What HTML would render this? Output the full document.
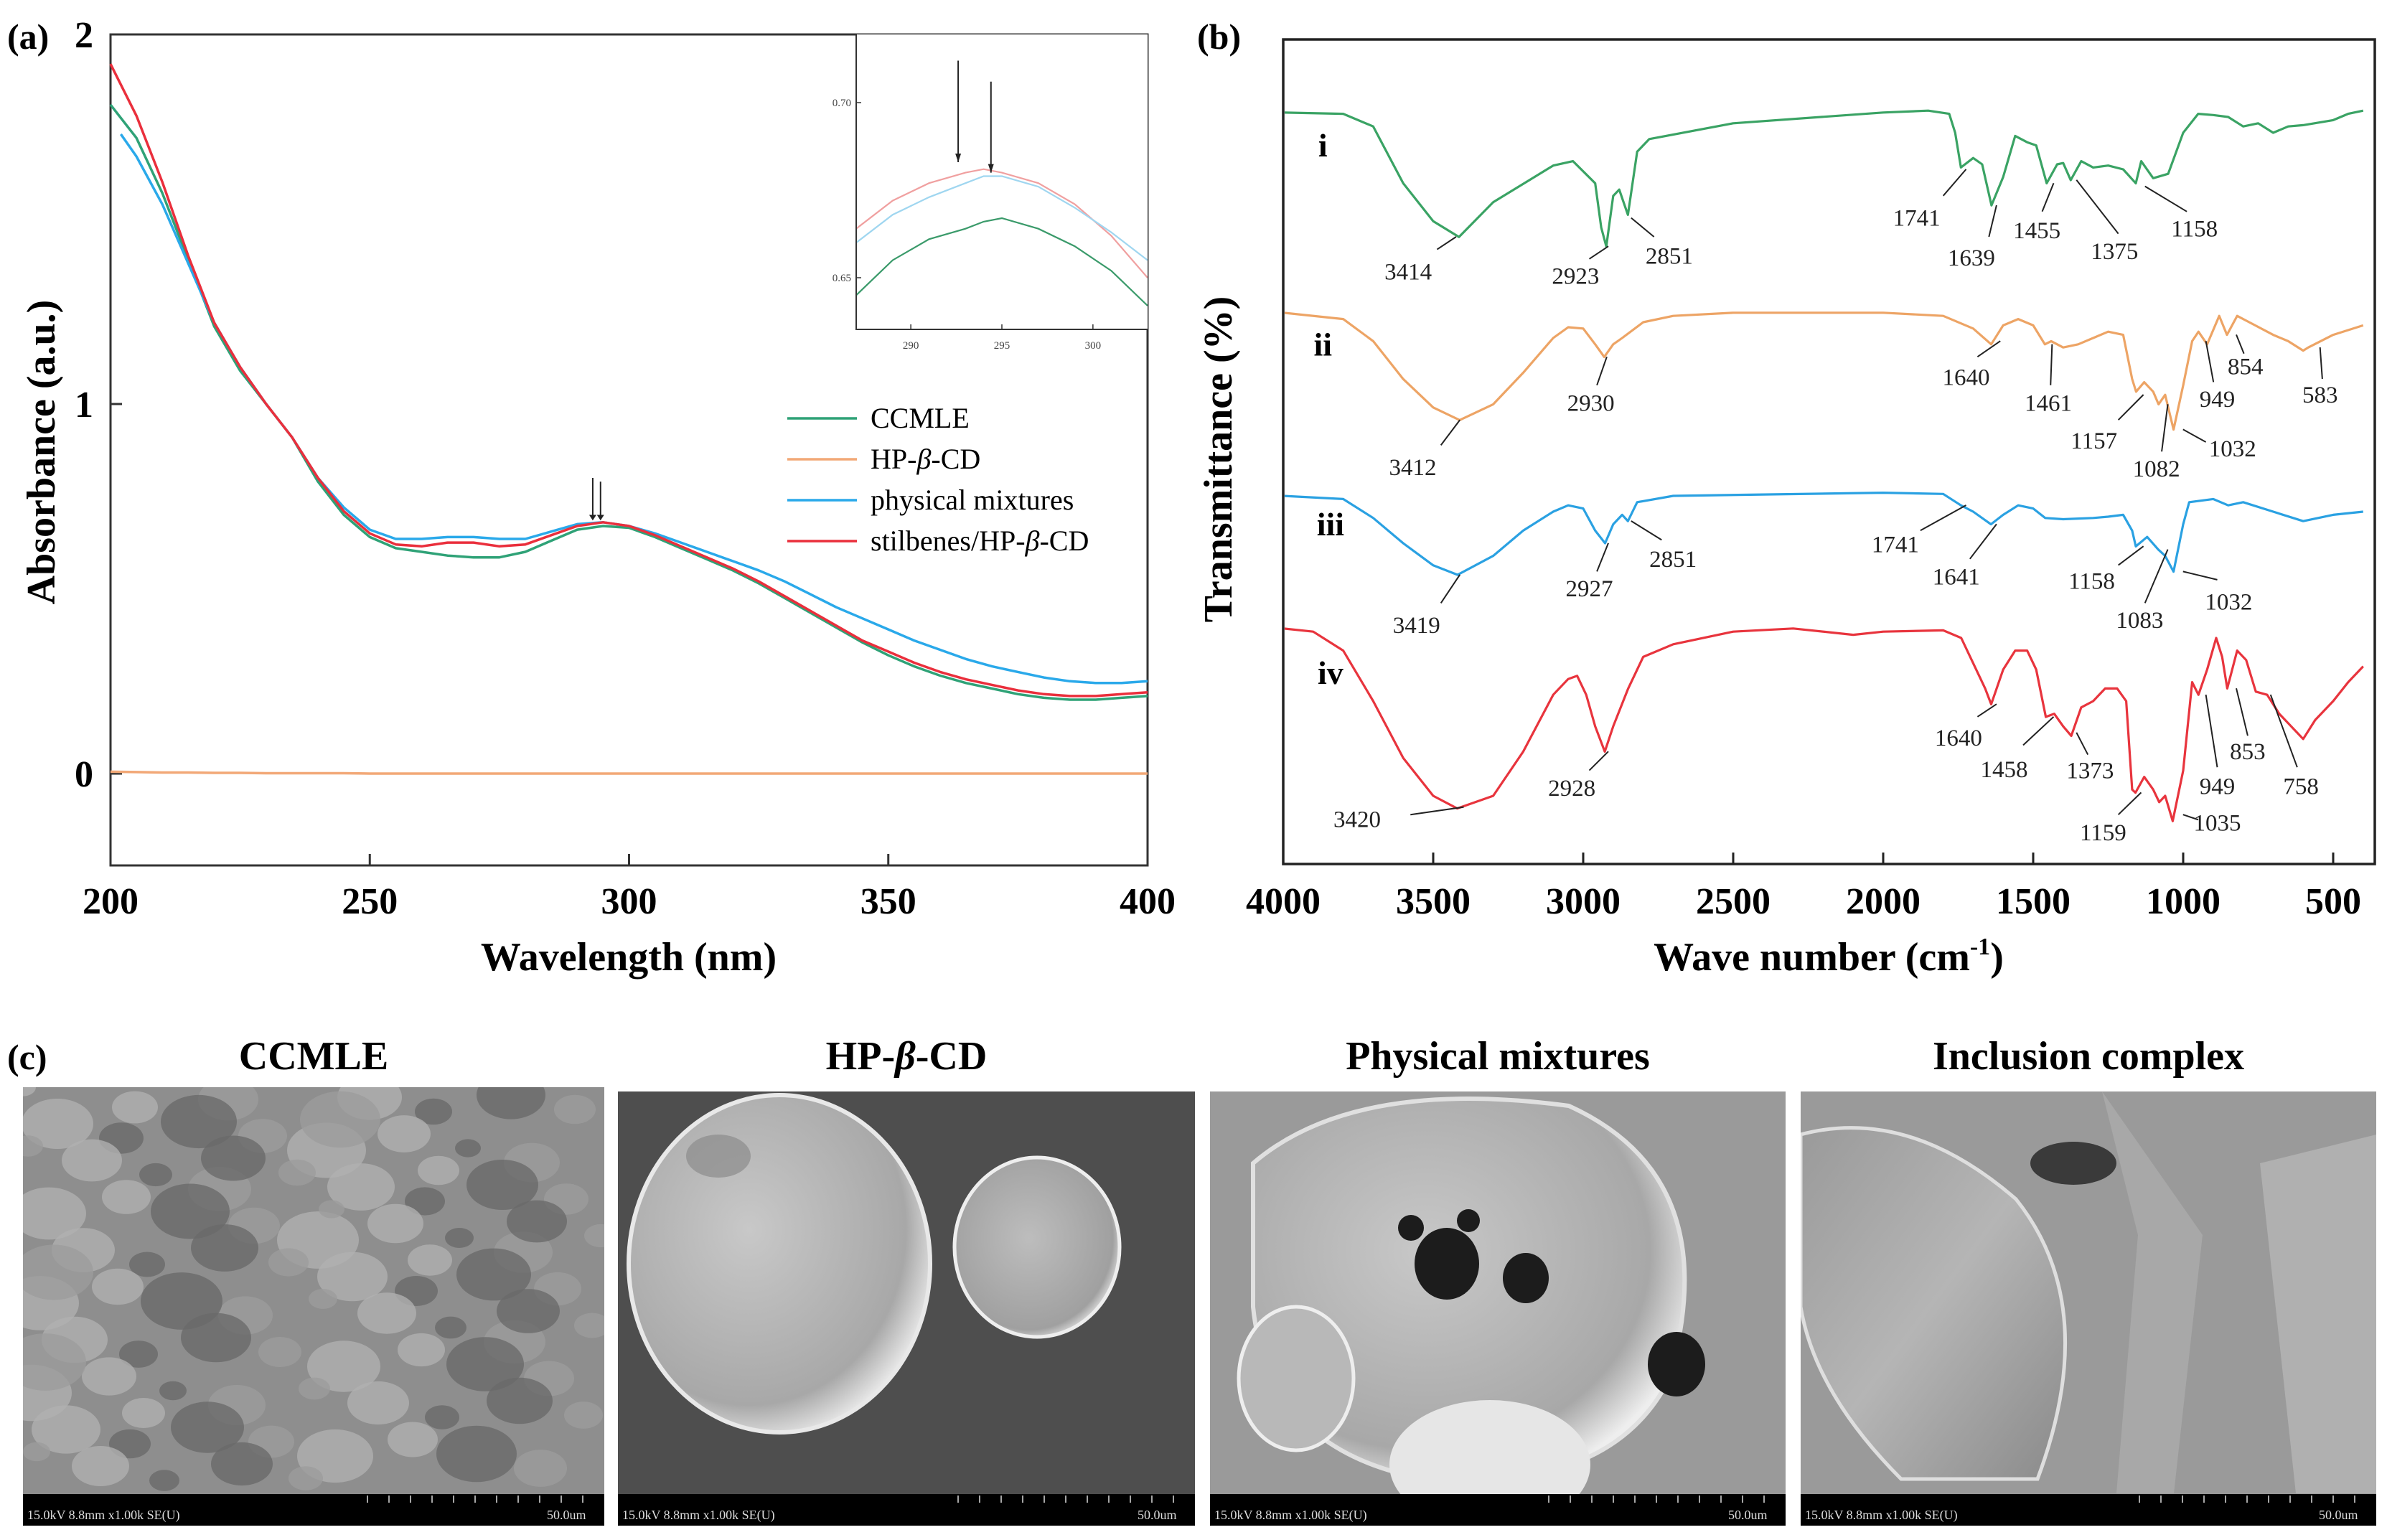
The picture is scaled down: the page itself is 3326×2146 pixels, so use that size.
<!DOCTYPE html>
<html><head><meta charset="utf-8">
<style>
html,body{margin:0;padding:0;background:#fff;}
svg{display:block;}
text{font-family:"Liberation Serif",serif;}
</style></head>
<body>
<svg id="fig" xmlns="http://www.w3.org/2000/svg" width="3326" height="2146" viewBox="0 0 3326 2146">
<defs>
<radialGradient id="sph" cx="40%" cy="40%" r="65%"><stop offset="0" stop-color="#c8c8c8"/><stop offset="0.8" stop-color="#a8a8a8"/><stop offset="1" stop-color="#eee"/></radialGradient>
<radialGradient id="sph2" cx="45%" cy="45%" r="60%"><stop offset="0" stop-color="#bdbdbd"/><stop offset="0.85" stop-color="#a0a0a0"/><stop offset="1" stop-color="#f2f2f2"/></radialGradient>
<linearGradient id="g4" x1="0" y1="0" x2="1" y2="1"><stop offset="0" stop-color="#9a9a9a"/><stop offset="0.5" stop-color="#b5b5b5"/><stop offset="1" stop-color="#8a8a8a"/></linearGradient>
</defs>
<g id="panelA"></g>
<g id="panelB"></g>
<g id="panelC"></g>
</svg>
<script>
// ---------- Panel (a) data ----------
const uvWavelengths = [200,205,210,215,220,225,230,235,240,245,250,255,260,265,270,275,280,285,290,295,300,305,310,315,320,325,330,335,340,345,350,355,360,365,370,375,380,385,390,395,400];
const uvCCMLE   = [1.81,1.72,1.57,1.39,1.21,1.09,1.0,0.91,0.79,0.70,0.64,0.61,0.60,0.59,0.585,0.585,0.60,0.63,0.66,0.67,0.665,0.64,0.61,0.58,0.55,0.515,0.475,0.435,0.395,0.355,0.32,0.29,0.265,0.245,0.23,0.215,0.205,0.20,0.20,0.205,0.21];
const uvStil    = [1.92,1.78,1.60,1.40,1.22,1.10,1.0,0.91,0.80,0.71,0.65,0.62,0.615,0.625,0.625,0.615,0.62,0.645,0.67,0.68,0.67,0.645,0.615,0.585,0.555,0.52,0.48,0.44,0.40,0.36,0.33,0.30,0.275,0.255,0.24,0.225,0.215,0.21,0.21,0.215,0.22];
const uvPMWave  = [202,205,210,215,220,225,230,235,240,245,250,255,260,265,270,275,280,285,290,295,300,305,310,315,320,325,330,335,340,345,350,355,360,365,370,375,380,385,390,395,400];
const uvPM      = [1.73,1.67,1.54,1.38,1.22,1.10,1.0,0.91,0.80,0.72,0.66,0.635,0.635,0.64,0.64,0.635,0.635,0.655,0.675,0.68,0.67,0.65,0.625,0.60,0.575,0.55,0.52,0.485,0.45,0.42,0.39,0.36,0.335,0.31,0.29,0.275,0.26,0.25,0.245,0.245,0.25];
const uvHP      = [0.005,0.004,0.003,0.003,0.002,0.002,0.001,0.001,0.001,0.001,0.0,0.0,0.0,0.0,0.0,0.0,0.0,0.0,0.0,0.0,0.0,0.0,0.0,0.0,0.0,0.0,0.0,0.0,0.0,0.0,0.0,0.0,0.0,0.0,0.0,0.0,0.0,0.0,0.0,0.0,0.0];
const uvXTicks = [200,250,300,350,400];
const uvYTicks = [0,1,2];
// inset
const inWave = [287,289,291,293,294,295,297,299,301,303];
const inStil = [0.664,0.672,0.677,0.680,0.681,0.680,0.677,0.671,0.662,0.650];
const inPM   = [0.660,0.668,0.673,0.677,0.679,0.679,0.676,0.670,0.663,0.655];
const inCC   = [0.645,0.655,0.661,0.664,0.666,0.667,0.664,0.659,0.652,0.642];
const inXTicks = [290,295,300];
const inYTicks = [0.65,0.70];
// ---------- Panel (b) data (transmittance, arbitrary units) ----------
const irWaveI = [4000,3800,3700,3600,3500,3414,3300,3100,3034,2960,2940,2923,2900,2880,2851,2820,2780,2500,2000,1850,1780,1760,1741,1700,1670,1639,1600,1560,1520,1490,1455,1420,1400,1375,1340,1300,1250,1200,1158,1140,1100,1050,1000,950,900,850,800,750,700,650,600,500,450,400];
const irI = [1190,1188,1168,1078,1018,993,1048,1106,1113,1078,1008,978,1058,1068,1028,1128,1148,1173,1190,1193,1188,1158,1103,1118,1108,1043,1088,1153,1143,1138,1078,1108,1110,1083,1113,1103,1106,1100,1078,1113,1086,1093,1158,1188,1186,1183,1168,1173,1158,1168,1170,1178,1188,1193];
const irWaveII = [4000,3800,3700,3600,3500,3412,3300,3200,3100,3050,3000,2960,2930,2900,2870,2800,2700,2500,2000,1800,1700,1640,1600,1550,1500,1461,1440,1400,1350,1300,1250,1200,1170,1157,1130,1100,1082,1060,1032,1000,970,949,920,880,854,820,780,700,650,600,583,500,400];
const irII = [873,863,828,768,723,703,728,778,833,850,848,823,803,823,833,858,868,873,873,868,848,823,853,863,853,823,828,818,823,833,843,838,768,748,763,748,728,743,688,758,828,843,823,868,838,868,858,838,828,813,818,838,853];
const irWaveIII = [4000,3800,3700,3600,3500,3419,3300,3200,3100,3050,3000,2960,2927,2900,2870,2851,2820,2700,2000,1800,1741,1700,1641,1600,1550,1500,1460,1400,1300,1250,1200,1170,1158,1120,1083,1060,1032,1000,980,900,850,800,700,600,500,400];
const irIII = [583,578,548,508,473,458,488,528,558,568,563,528,508,538,553,543,573,583,588,586,568,558,538,553,568,563,548,546,548,550,553,528,503,518,498,488,463,538,573,578,568,573,558,543,553,558];
const irWaveIV = [4000,3900,3800,3700,3600,3500,3420,3300,3200,3100,3050,3020,2990,2960,2928,2900,2850,2800,2700,2500,2300,2100,2000,1800,1740,1700,1660,1640,1600,1560,1520,1490,1458,1430,1400,1373,1340,1300,1260,1220,1190,1170,1159,1130,1100,1080,1060,1035,1000,970,949,920,890,870,853,820,790,758,720,680,640,600,560,500,450,400];
const irIV = [373,368,338,258,168,108,88,108,178,268,293,298,268,218,178,218,278,328,348,368,373,363,368,370,358,318,278,253,308,338,338,308,233,238,218,203,248,258,278,278,258,118,113,138,118,98,108,68,148,288,268,308,358,328,278,338,323,273,268,238,218,198,228,258,288,313];
const irXTicks = [4000,3500,3000,2500,2000,1500,1000,500];
// peak annotations: [label, textX, textY, lineX1, lineY1, lineX2, lineY2] in layout units
const irLabels = [
 ["3414",282,430,320,395,345,375],["2923",502,437,520,410,545,390],["2851",625,405,605,375,575,345],
 ["1741",950,345,985,310,1015,268],["1639",1022,408,1045,375,1055,325],["1455",1108,365,1115,335,1130,290],
 ["1375",1210,398,1215,370,1160,285],["1158",1315,362,1305,335,1250,295],
 ["2930",522,638,530,610,543,565],["3412",288,740,325,705,350,665],["1640",1015,597,1030,565,1060,540],
 ["1461",1123,638,1126,610,1128,545],["1157",1183,698,1215,665,1248,625],["1082",1265,742,1272,715,1280,640],
 ["1032",1365,710,1330,700,1300,680],["949",1345,632,1340,605,1330,540],["854",1382,580,1380,560,1370,530],
 ["583",1480,625,1483,600,1480,550],
 ["3419",293,990,325,955,350,910],["2927",520,932,530,905,545,860],["2851",630,885,615,855,575,825],
 ["1741",922,862,955,840,1015,800],["1641",1002,913,1020,885,1055,830],["1158",1180,920,1215,895,1248,865],
 ["1083",1243,982,1250,955,1280,870],["1032",1360,953,1345,918,1300,905],
 ["3420",215,1297,285,1290,355,1278],["2928",497,1248,520,1220,545,1190],["1640",1005,1168,1030,1135,1055,1115],
 ["1458",1065,1218,1090,1180,1130,1135],["1373",1178,1220,1175,1195,1160,1160],["1159",1195,1318,1215,1290,1245,1255],
 ["1035",1345,1303,1320,1298,1300,1290],["949",1345,1245,1345,1215,1330,1100],["853",1385,1190,1385,1165,1370,1090],
 ["758",1455,1245,1450,1215,1415,1100]
];

const NS='http://www.w3.org/2000/svg';
function mk(parent,tag,attrs,txt){const e=document.createElementNS(NS,tag);for(const k in attrs)e.setAttribute(k,attrs[k]);if(txt!==undefined)e.textContent=txt;parent.appendChild(e);return e;}
function pathD(xs,ys,fx,fy){return xs.map((x,i)=>(i?'L':'M')+fx(x).toFixed(1)+' '+fy(ys[i]).toFixed(1)).join(' ');}

// ---------- Panel A ----------
const A=document.getElementById('panelA');
const ax=w=>154+(w-200)/200*1445, ay=v=>1078-v*515;
let t=mk(A,'text',{x:10,y:68,'font-size':50,'font-weight':'bold'},'(a)');

let r=mk(A,'rect',{x:154,y:48,width:1445,height:1158,fill:'none',stroke:'#333','stroke-width':3});

uvXTicks.forEach(v=>{
 let l=mk(A,'line',{x1:ax(v),x2:ax(v),y1:1206,y2:1190,stroke:'#333','stroke-width':3});
 
 let tt=mk(A,'text',{x:ax(v),y:1273,'font-size':52,'font-weight':'bold','text-anchor':'middle'},String(v));
 
});
uvYTicks.forEach(v=>{
 let l=mk(A,'line',{x1:154,x2:170,y1:ay(v),y2:ay(v),stroke:'#333','stroke-width':3});
 
 let tt=mk(A,'text',{x:130,y:ay(v)+18,'font-size':52,'font-weight':'bold','text-anchor':'end'},String(v));
 
});
t=mk(A,'text',{x:876,y:1352,'font-size':56,'font-weight':'bold','text-anchor':'middle'},'Wavelength (nm)');

t=mk(A,'text',{x:0,y:0,'font-size':56,'font-weight':'bold','text-anchor':'middle',transform:'translate(76,630) rotate(-90)'},'Absorbance (a.u.)');

const uvSeries=[[uvWavelengths,uvHP,'#f2a877','hp-cd-line'],[uvWavelengths,uvCCMLE,'#2fa277','ccmle-line'],[uvPMWave,uvPM,'#2aa9ea','physical-mixtures-line'],[uvWavelengths,uvStil,'#ea2f3c','stilbenes-hpcd-line']];
uvSeries.forEach(s=>{let p=mk(A,'path',{d:pathD(s[0],s[1],ax,ay),fill:'none',stroke:s[2],'stroke-width':3.5,'stroke-linejoin':'round'});
 });
// main arrows
[[293,0.80],[294.5,0.79]].forEach(a=>{
 let g=mk(A,'g',{});
 mk(g,'line',{x1:ax(a[0]),x2:ax(a[0]),y1:ay(a[1]),y2:ay(0.69),stroke:'#222','stroke-width':2});
 mk(g,'path',{d:`M${ax(a[0])-5} ${ay(0.70)} L${ax(a[0])+5} ${ay(0.70)} L${ax(a[0])} ${ay(0.685)} Z`,fill:'#222'});
});
// legend
const legItems=[['CCMLE','#2fa277'],['HP-β-CD','#f2a877'],['physical mixtures','#2aa9ea'],['stilbenes/HP-β-CD','#ea2f3c']];
legItems.forEach((it,i)=>{
 const y=583+i*57;
 let g=mk(A,'g',{});
 mk(g,'line',{x1:1097,x2:1194,y1:y,y2:y,stroke:it[1],'stroke-width':3.5});
 const tx=mk(g,'text',{x:1213,y:y+13,'font-size':40});
 if(it[0].includes('β')){const parts=it[0].split('β');tx.appendChild(document.createTextNode(parts[0]));mk(tx,'tspan',{'font-style':'italic'},'β');tx.appendChild(document.createTextNode(parts[1]));}
 else tx.textContent=it[0];
});
// inset
const ix=w=>1193+(w-287)/16*406, iy=v=>143+(0.70-v)/0.05*244;
let ig=mk(A,'g',{});
mk(ig,'rect',{x:1193,y:48,width:406,height:411,fill:'#fff'});
mk(ig,'path',{d:'M1193 48 L1193 459 L1599 459',fill:'none',stroke:'#333','stroke-width':2});
inXTicks.forEach(v=>{mk(ig,'line',{x1:ix(v),x2:ix(v),y1:459,y2:452,stroke:'#333','stroke-width':1.5});
 let tt=mk(ig,'text',{x:ix(v),y:486,'font-size':15,'text-anchor':'middle',fill:'#444'},String(v));});
inYTicks.forEach(v=>{mk(ig,'line',{x1:1193,x2:1200,y1:iy(v),y2:iy(v),stroke:'#333','stroke-width':1.5});
 let tt=mk(ig,'text',{x:1186,y:iy(v)+5,'font-size':15,'text-anchor':'end',fill:'#444'},v.toFixed(2));});
let cl=mk(ig,'clipPath',{id:'inclip'});mk(cl,'rect',{x:1194,y:48,width:405,height:410});
[[inStil,'#f0a0a0','inset-stilbenes-line'],[inPM,'#9fd6f0','inset-physical-mixtures-line'],[inCC,'#3a9a6a','inset-ccmle-line']].forEach(s=>{
 let p=mk(ig,'path',{d:pathD(inWave,s[0],ix,iy),fill:'none',stroke:s[1],'stroke-width':2.2,'clip-path':'url(#inclip)'});
 });
[[292.6,0.712,0.683],[294.4,0.706,0.680]].forEach(a=>{
 let g=mk(ig,'g',{});
 mk(g,'line',{x1:ix(a[0]),x2:ix(a[0]),y1:iy(a[1]),y2:iy(a[2]),stroke:'#222','stroke-width':2});
 mk(g,'path',{d:`M${ix(a[0])-4} ${iy(a[2])-12} L${ix(a[0])+4} ${iy(a[2])-12} L${ix(a[0])} ${iy(a[2])} Z`,fill:'#222'});
});

// ---------- Panel B ----------
const B=document.getElementById('panelB');
const bx=wn=>1788+(4000-wn)/500*209, by=v=>1204-v*0.88;
const lx=z=>1663+z*1.0606, ly=z=>z*0.88;
t=mk(B,'text',{x:1668,y:68,'font-size':50,'font-weight':'bold'},'(b)');

r=mk(B,'rect',{x:1788,y:55,width:1521,height:1149,fill:'none',stroke:'#222','stroke-width':3.5});

irXTicks.forEach(v=>{
 let l=mk(B,'line',{x1:bx(v),x2:bx(v),y1:1204,y2:1188,stroke:'#222','stroke-width':3});
 
 let tt=mk(B,'text',{x:bx(v),y:1273,'font-size':52,'font-weight':'bold','text-anchor':'middle'},String(v));
 
});
t=mk(B,'text',{x:2548,y:1352,'font-size':56,'font-weight':'bold','text-anchor':'middle'},'Wave number (cm');
mk(t,'tspan',{'font-size':34,dy:-22},'-1');mk(t,'tspan',{dy:22},')');

t=mk(B,'text',{x:0,y:0,'font-size':56,'font-weight':'bold','text-anchor':'middle',transform:'translate(1716,640) rotate(-90)'},'Transmittance (%)');

let bcl=mk(B,'clipPath',{id:'bclip'});mk(bcl,'rect',{x:1790,y:57,width:1517,height:1145});
const irSeries=[[irWaveI,irI,'#3aa364','ftir-ccmle-i'],[irWaveII,irII,'#eda465','ftir-hpcd-ii'],[irWaveIII,irIII,'#2aa1e2','ftir-physical-mixture-iii'],[irWaveIV,irIV,'#e8343d','ftir-inclusion-complex-iv']];
irSeries.forEach(s=>{let p=mk(B,'path',{d:pathD(s[0],s[1],bx,by),fill:'none',stroke:s[2],'stroke-width':3.2,'stroke-linejoin':'round','clip-path':'url(#bclip)'});
 });
[['i',170,248],['ii',170,563],['iii',180,848],['iv',180,1083]].forEach(n=>{
 let tt=mk(B,'text',{x:lx(n[1]),y:ly(n[2]),'font-size':46,'font-weight':'bold','text-anchor':'middle'},n[0]);
 });
irLabels.forEach(L=>{
 let g=mk(B,'g',{});
 mk(g,'line',{x1:lx(L[3]),y1:ly(L[4]),x2:lx(L[5]),y2:ly(L[6]),stroke:'#222','stroke-width':2});
 mk(g,'text',{x:lx(L[1]),y:ly(L[2])+11,'font-size':33,'text-anchor':'middle',fill:'#222'},L[0]);
});

// ---------- Panel C ----------
const C=document.getElementById('panelC');
t=mk(C,'text',{x:10,y:1490,'font-size':50,'font-weight':'bold'},'(c)');

const semX=[32,861,1686,2509], semW=[810,804,802,802];
const semTitles=['CCMLE','HP-β-CD','Physical mixtures','Inclusion complex'];
semTitles.forEach((s,i)=>{
 const tx=mk(C,'text',{x:semX[i]+semW[i]/2,y:1490,'font-size':56,'font-weight':'bold','text-anchor':'middle'});
 
 if(s.includes('β')){const p=s.split('β');tx.appendChild(document.createTextNode(p[0]));mk(tx,'tspan',{'font-style':'italic'},'β');tx.appendChild(document.createTextNode(p[1]));}
 else tx.textContent=s;
});
const bgs=['#8e8e8e','#4e4e4e','#9a9a9a','#9a9a9a'];
semX.forEach((x,i)=>{
 const y0=i===0?1515:1521, h=2126-y0, w=semW[i];
 let g=mk(C,'g',{});
 let cp=mk(g,'clipPath',{id:'sc'+i});mk(cp,'rect',{x:x,y:y0,width:w,height:h});
 let inner=mk(g,'g',{'clip-path':'url(#sc'+i+')'});
 mk(inner,'rect',{x:x,y:y0,width:w,height:h,fill:bgs[i]});
 if(i===0){
  for(let k=0;k<90;k++){const cx=x+((k*137)%w),cy=y0+((k*71)%(h-60)),rr=18+(k*13)%40;
   mk(inner,'ellipse',{cx:cx,cy:cy,rx:rr,ry:rr*0.7,fill:(k%3===0)?'#b0b0b0':(k%3===1?'#6a6a6a':'#9c9c9c'),opacity:0.8});}
 } else if(i===1){
  mk(inner,'ellipse',{cx:x+225,cy:y0+240,rx:210,ry:235,fill:'url(#sph)',stroke:'#e8e8e8','stroke-width':6});
  mk(inner,'ellipse',{cx:x+140,cy:y0+90,rx:45,ry:30,fill:'#8c8c8c',opacity:0.7});
  mk(inner,'ellipse',{cx:x+584,cy:y0+217,rx:115,ry:125,fill:'url(#sph2)',stroke:'#eee','stroke-width':5});
 } else if(i===2){
  mk(inner,'path',{d:`M${x+60} ${y0+100} Q${x+200} ${y0-20} ${x+500} ${y0+20} Q${x+720} ${y0+120} ${x+640} ${y0+400} Q${x+560} ${y0+560} ${x+300} ${y0+540} Q${x+80} ${y0+500} ${x+60} ${y0+300} Z`,fill:'url(#sph)',stroke:'#e0e0e0','stroke-width':6});
  [[330,240,45,50],[280,190,18,18],[360,180,16,16],[440,260,32,35],[130,340,14,14],[650,380,40,45]].forEach(hh=>mk(inner,'ellipse',{cx:x+hh[0],cy:y0+hh[1],rx:hh[2],ry:hh[3],fill:'#1c1c1c'}));
  mk(inner,'ellipse',{cx:x+390,cy:y0+520,rx:140,ry:90,fill:'#e6e6e6'});
  mk(inner,'ellipse',{cx:x+120,cy:y0+400,rx:80,ry:100,fill:'#b8b8b8',stroke:'#eee','stroke-width':5});
 } else {
  mk(inner,'path',{d:`M${x} ${y0+60} Q${x+150} ${y0+20} ${x+300} ${y0+150} Q${x+420} ${y0+300} ${x+330} ${y0+540} L${x+140} ${y0+540} Q${x+20} ${y0+420} ${x} ${y0+300} Z`,fill:'url(#g4)',stroke:'#dedede','stroke-width':5});
  mk(inner,'path',{d:`M${x+420} ${y0} L${x+560} ${y0+200} L${x+520} ${y0+560} L${x+440} ${y0+560} L${x+470} ${y0+200} Z`,fill:'#a8a8a8'});
  mk(inner,'path',{d:`M${x+640} ${y0+100} L${x+802} ${y0+60} L${x+802} ${y0+560} L${x+690} ${y0+560} Z`,fill:'#b0b0b0'});
  mk(inner,'ellipse',{cx:x+380,cy:y0+100,rx:60,ry:30,fill:'#3a3a3a'});
 }
 mk(inner,'rect',{x:x,y:2082,width:w,height:44,fill:'#000'});
 for(let k=0;k<11;k++)mk(inner,'line',{x1:x+w-330+k*30,x2:x+w-330+k*30,y1:2084,y2:2094,stroke:'#ddd','stroke-width':1.5});
 mk(inner,'text',{x:x+6,y:2117,'font-size':18,fill:'#ddd','font-family':'Liberation Sans, sans-serif'},'15.0kV 8.8mm x1.00k SE(U)');
 mk(inner,'text',{x:x+w-80,y:2117,'font-size':18,fill:'#ddd','font-family':'Liberation Sans, sans-serif'},'50.0um');
});
</script>
</body></html>
